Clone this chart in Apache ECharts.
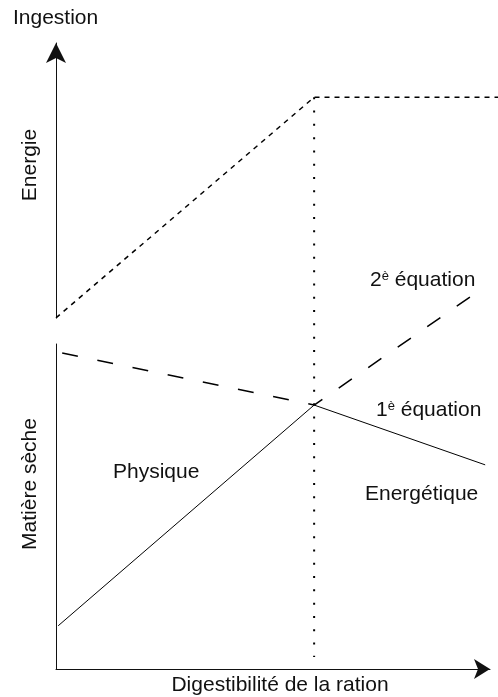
<!DOCTYPE html>
<html>
<head>
<meta charset="utf-8">
<script src="https://cdn.jsdelivr.net/npm/echarts@6/dist/echarts.min.js"></script>
<style>
  html, body { margin: 0; padding: 0; background: #fff; }
  #chart { width: 498px; height: 697px; }
</style>
</head>
<body>
<div id="chart"></div>
<script>
// digestibility (x) vs intake (y), both on a 0..100 schematic scale
const energieLine = [[0, 55.2], [58.4, 89.9], [100, 89.9]];       // Energie
const optimumLine = [[58.4, 89.9], [58.4, 1.9]];                  // vertical dotted
const equation2Line = [[1.4, 49.7], [58.4, 41.5], [93.7, 58.5]];  // 2è équation (dashed)
const equation1Line = [[0.5, 6.8], [58.4, 41.5], [97.1, 32.1]];   // 1è équation (solid)

const labelFont = '"Liberation Sans", Arial, Helvetica, sans-serif';
const ink = '#111';

function txt(text, x, y, extra) {
    return {
        type: 'text',
        x: x,
        y: y,
        rotation: extra && extra.rotation || 0,
        style: {
            text: text,
            fill: ink,
            font: '21px ' + labelFont,
            align: extra && extra.align || 'left',
            verticalAlign: 'middle',
            rich: extra && extra.rich
        }
    }
}

function lineSeries(data, type, width) {
    return {
        type: 'line',
        xAxisIndex: 0,
        yAxisIndex: 0,
        data: data,
        symbol: 'none',
        clip: false,
        silent: true,
        lineStyle: { color: '#000', width: width, type: type, cap: 'butt' }
    }
}

const hidden = { show: false, type: 'value', min: 0, max: 100 };
const bareAxis = (gridIndex, arrow, size) => ({
    type: 'value',
    gridIndex: gridIndex,
    min: 0,
    max: 100,
    axisLine: {
        show: true,
        onZero: false,
        symbol: arrow ? ['none', 'arrow'] : ['none', 'none'],
        symbolSize: size || [10, 15],
        lineStyle: { color: '#111', width: 1 }
    },
    axisTick: { show: false },
    axisLabel: { show: false },
    splitLine: { show: false }
});

const sup = { sup: { fontSize: 13, fontFamily: labelFont, verticalAlign: 'top', lineHeight: 21, fill: ink } };

const chart = echarts.init(document.getElementById('chart'), null, { renderer: 'canvas' });
chart.setOption({
    backgroundColor: '#fff',
    animation: false,
    grid: [
        { left: 56, right: 0, top: 33, bottom: 28 },   // data
        { left: 56, top: 43, width: 100, height: 275 }, // Energie axis
        { left: 56, right: 8, top: 344, bottom: 28 }    // Matière sèche axis + x axis
    ],
    xAxis: [
        Object.assign({ gridIndex: 0 }, hidden),
        Object.assign({ gridIndex: 1 }, hidden),
        bareAxis(2, true, [15, 16])
    ],
    yAxis: [
        Object.assign({ gridIndex: 0 }, hidden),
        bareAxis(1, true, [15, 20]),
        bareAxis(2, false)
    ],
    series: [
        lineSeries(energieLine, [5, 5], 1.5),
        lineSeries(optimumLine, [2, 11.3], 2),
        lineSeries(equation2Line, [16, 19.9], 1.5),
        lineSeries(equation1Line, 'solid', 1)
    ],
    graphic: [
        txt('Ingestion', 13, 18),
        txt('Energie', 30, 165, { rotation: Math.PI / 2, align: 'center' }),
        txt('Matière sèche', 30, 484, { rotation: Math.PI / 2, align: 'center' }),
        txt('Digestibilité de la ration', 280, 685, { align: 'center' }),
        txt('2{sup|è} équation', 370, 280, { rich: sup }),
        txt('1{sup|è} équation', 376, 410, { rich: sup }),
        txt('Physique', 113, 472),
        txt('Energétique', 365, 494)
    ]
});
</script>
</body>
</html>
